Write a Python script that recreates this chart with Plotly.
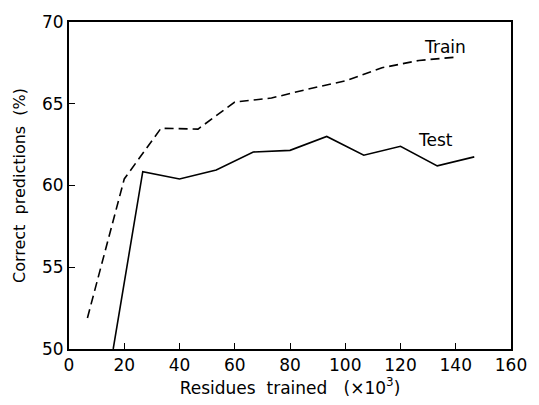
import plotly.graph_objects as go

train_x = [6.67, 20, 33.3, 46.7, 60, 73.3, 86.7, 100, 113.3, 126.7, 140]
train_y = [51.9, 60.4, 63.5, 63.45, 65.1, 65.35, 65.9, 66.4, 67.2, 67.65, 67.85]
test_x = [16, 26.7, 40, 53.3, 66.7, 80, 93.3, 106.7, 120, 133.3, 146.7]
test_y = [50.0, 60.85, 60.4, 60.95, 62.05, 62.15, 63.0, 61.85, 62.4, 61.2, 61.75]
x_ticks = [0, 20, 40, 60, 80, 100, 120, 140, 160]
y_ticks = [50, 55, 60, 65, 70]

FONT = "DejaVu Sans"
SP = "\u00a0"

fig = go.Figure()
fig.add_trace(go.Scatter(x=train_x, y=train_y, mode="lines",
                         line=dict(color="black", width=1.6, dash="9px,5px"),
                         name="Train", showlegend=False))
fig.add_trace(go.Scatter(x=test_x, y=test_y, mode="lines",
                         line=dict(color="black", width=1.6),
                         name="Test", showlegend=False))

fig.add_annotation(x=136, y=68.5, text="Train", showarrow=False,
                   font=dict(family=FONT, size=17, color="black"))
fig.add_annotation(x=132.5, y=62.8, text="Test", showarrow=False,
                   font=dict(family=FONT, size=17, color="black"))

fig.update_layout(
    width=539, height=405,
    margin=dict(l=69, r=17, t=18, b=55),
    plot_bgcolor="white", paper_bgcolor="white",
    font=dict(family=FONT, size=17, color="black"),
)
fig.update_xaxes(range=[0, 160], tickvals=x_ticks, ticktext=[str(v) for v in x_ticks],
                 ticks="inside", ticklen=6, tickwidth=1.3, tickcolor="black",
                 showline=True, linewidth=2, linecolor="black", mirror=True,
                 showgrid=False, zeroline=False,
                 tickfont=dict(family=FONT, size=17),
                 title=dict(text="Residues" + SP * 2 + "trained" + SP * 3 + "(×10<sup>3</sup>)",
                            standoff=6, font=dict(family=FONT, size=17)))
fig.update_yaxes(range=[50, 70], tickvals=y_ticks, ticktext=[str(v) for v in y_ticks],
                 ticks="inside", ticklen=6, tickwidth=1.3, tickcolor="black",
                 showline=True, linewidth=2, linecolor="black", mirror=True,
                 showgrid=False, zeroline=False,
                 tickfont=dict(family=FONT, size=17),
                 title=dict(text="Correct" + SP * 2 + "predictions" + SP * 2 + "(%)",
                            standoff=12, font=dict(family=FONT, size=16)))

fig.write_html("out.html")
